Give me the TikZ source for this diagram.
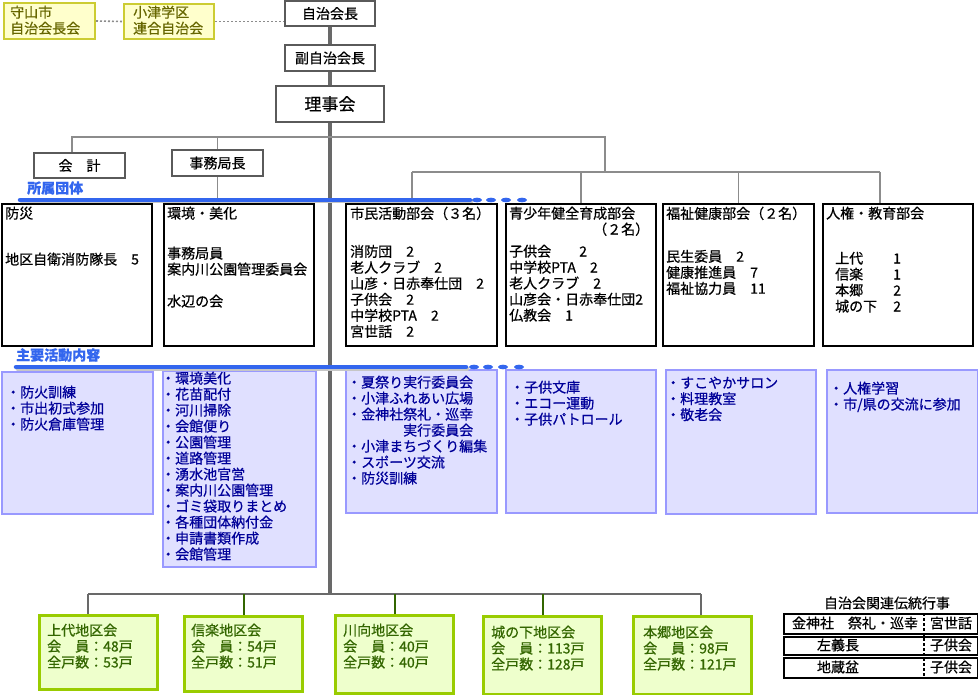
\documentclass[tikz,border=0pt]{standalone}
\usepackage{fontspec}
\setmainfont{Noto Sans CJK JP}[FakeBold=0.6]
\usetikzlibrary{calc}
\definecolor{trunkc}{RGB}{105,105,105}
\definecolor{linec}{RGB}{140,140,140}
\definecolor{blueln}{RGB}{51,102,238}
\definecolor{lavfill}{RGB}{224,224,255}
\definecolor{lavdraw}{RGB}{153,153,255}
\definecolor{lavtext}{RGB}{0,0,153}
\definecolor{grnfill}{RGB}{238,255,204}
\definecolor{grndraw}{RGB}{153,204,0}
\definecolor{grntext}{RGB}{51,102,0}
\definecolor{grnline}{RGB}{51,102,0}
\definecolor{yelfill}{RGB}{255,255,204}
\definecolor{yeldraw}{RGB}{204,204,51}
\definecolor{yeltext}{RGB}{102,102,0}
\definecolor{topdraw}{RGB}{90,90,90}
\begin{document}
\begin{tikzpicture}[x=1pt,y=-1pt,
  topbox/.style={draw=topdraw,line width=1.8pt,fill=white,inner sep=0,font=\fontsize{14}{16}\selectfont},
  secbox/.style={draw=black,line width=2pt,fill=white,anchor=north west,inner sep=0},
  actbox/.style={draw=lavdraw,line width=2pt,fill=lavfill,anchor=north west,inner sep=0},
  grnbox/.style={draw=grndraw,line width=3pt,fill=grnfill,anchor=north west,inner sep=0},
  yelbox/.style={draw=yeldraw,line width=2pt,fill=yelfill,anchor=north west,inner sep=0},
  tabrow/.style={draw=black,line width=2pt,fill=white,anchor=north west,inner sep=0},
  txt/.style={anchor=north west,inner sep=0,align=left,font=\fontsize{14}{16}\selectfont},
  ctxt/.style={inner sep=0,font=\fontsize{14}{16}\selectfont},
  acttxt/.style={txt,text=lavtext},
  grntxt/.style={txt,text=grntext},
  bluelab/.style={anchor=west,inner sep=0,text=blueln,font=\fontsize{14}{16}\selectfont\bfseries},
  trunk/.style={draw=trunkc,line width=4.5pt},
  thinln/.style={draw=linec,line width=1.6pt},
  dotln/.style={draw=linec,line width=1.6pt,dash pattern=on 2pt off 2pt},
  bluelinest/.style={draw=blueln,line width=4.5pt,line cap=round},
  shadowln/.style={draw=gray!45,line width=4pt,line cap=round},
]
\useasboundingbox (0,0) rectangle (978,695);

% top yellow boxes
\node[yelbox,minimum width=91,minimum height=36] (moriyama) at (3,2) {};
\node[txt,text=yeltext] (moriyamat) at (10,5.5) {守山市\\自治会長会};
\node[yelbox,minimum width=90,minimum height=35] (ozu) at (123,3) {};
\node[txt,text=yeltext] (ozut) at (133,5.5) {小津学区\\連合自治会};

% top chain
\node[topbox,minimum width=90,minimum height=25] (jichi) at (330,13.5) {自治会長};
\node[topbox,minimum width=90,minimum height=26] (fuku) at (330,58) {副自治会長};
\node[topbox,minimum width=108,minimum height=36,font=\fontsize{17}{20}\selectfont] (riji) at (330,104) {理事会};
\node[topbox,minimum width=91,minimum height=25] (kaikei) at (79.5,165.5) {会　計};
\node[topbox,minimum width=91,minimum height=26] (jimu) at (217.5,163) {事務局長};

% section boxes
\node[secbox,minimum width=150,minimum height=142] (bosai) at (1,203) {};
\node[secbox,minimum width=150,minimum height=142] (kankyo) at (163,203) {};
\node[secbox,minimum width=151,minimum height=142] (shimin) at (345,203) {};
\node[secbox,minimum width=150,minimum height=142] (seisho) at (505,203) {};
\node[secbox,minimum width=151,minimum height=142] (fukushi) at (662,203) {};
\node[secbox,minimum width=150,minimum height=142] (jinken) at (822,203) {};

\node[txt] (bosait) at (5,206.5) {防災\\[30pt]地区自衛消防隊長　5};
\node[txt] (kankyot) at (167,206.5) {環境・美化\\[24pt]事務局員\\案内川公園管理委員会\\[16pt]水辺の会};
\node[txt] (shimint) at (350,206.5) {市民活動部会（３名）\\[22pt]消防団　2\\老人クラブ　2\\山彦・日赤奉仕団　2\\子供会　2\\中学校PTA　2\\宮世話　2};
\node[txt] (seishot) at (509,206.5) {青少年健全育成部会\\\hspace*{84pt}（２名）\\[6pt]子供会　　2\\中学校PTA　2\\老人クラブ　2\\山彦会・日赤奉仕団2\\仏教会　1};
\node[txt] (fukushit) at (666,206.5) {福祉健康部会（２名）\\[27pt]民生委員　2\\健康推進員　7\\福祉協力員　11};
\node[txt] (jinkent) at (826,206.5) {人権・教育部会\\[29pt]\hspace*{9pt}\makebox[58pt][l]{上代}1\\\hspace*{9pt}\makebox[58pt][l]{信楽}1\\\hspace*{9pt}\makebox[58pt][l]{本郷}2\\\hspace*{9pt}\makebox[58pt][l]{城の下}2};

% activity boxes
\node[actbox,minimum width=151,minimum height=142] (boka) at (1,371) {};
\node[actbox,minimum width=153,minimum height=196] (kankyoa) at (162,370) {};
\node[actbox,minimum width=151,minimum height=143] (natsu) at (345,369) {};
\node[actbox,minimum width=150,minimum height=143] (kodomo) at (505,369) {};
\node[actbox,minimum width=150,minimum height=144] (sukoyaka) at (665,369) {};
\node[actbox,minimum width=151,minimum height=143] (jinkena) at (826,369) {};

\node[acttxt] (bokat) at (6,385.5) {・防火訓練\\・市出初式参加\\・防火倉庫管理};
\node[acttxt] (kankyoat) at (161,371.5) {・環境美化\\・花苗配付\\・河川掃除\\・会館便り\\・公園管理\\・道路管理\\・湧水池官営\\・案内川公園管理\\・ゴミ袋取りまとめ\\・各種団体納付金\\・申請書類作成\\・会館管理};
\node[acttxt] (natsut) at (347,375.5) {・夏祭り実行委員会\\・小津ふれあい広場\\・金神社祭礼・巡幸\\\hspace*{56pt}実行委員会\\・小津まちづくり編集\\・スポーツ交流\\・防災訓練};
\node[acttxt] (kodomot) at (510,380.5) {・子供文庫\\・エコー運動\\・子供パトロール};
\node[acttxt] (sukoyakat) at (666,376.5) {・すこやかサロン\\・料理教室\\・敬老会};
\node[acttxt] (jinkenat) at (829,381.5) {・人権学習\\・市/県の交流に参加};

% district boxes
\node[grnbox,minimum width=118,minimum height=74] (kamishiro) at (38,614) {};
\node[grnbox,minimum width=118,minimum height=75] (shigaraki) at (183,615) {};
\node[grnbox,minimum width=118,minimum height=78] (kawamukai) at (334,614) {};
\node[grnbox,minimum width=118,minimum height=78] (shironoshita) at (482,615) {};
\node[grnbox,minimum width=118,minimum height=78] (hongo) at (632,615) {};

\node[grntxt] (kamishirot) at (47,623.5) {上代地区会\\会　員：48戸\\全戸数：53戸};
\node[grntxt] (shigarakit) at (191,623.5) {信楽地区会\\会　員：54戸\\全戸数：51戸};
\node[grntxt] (kawamukait) at (343,623.5) {川向地区会\\会　員：40戸\\全戸数：40戸};
\node[grntxt] (shironoshitat) at (491,625.5) {城の下地区会\\会　員：113戸\\全戸数：128戸};
\node[grntxt] (hongot) at (643,625.5) {本郷地区会\\会　員：98戸\\全戸数：121戸};

% table
\node[ctxt] (tabtitle) at (887,603) {自治会関連伝統行事};
\node[tabrow,minimum width=194,minimum height=20] (r1) at (783,613) {};
\node[tabrow,minimum width=194,minimum height=18] (r2) at (783,636) {};
\node[tabrow,minimum width=194,minimum height=20] (r3) at (783,657) {};
\node[ctxt] (c11) at (855,623) {金神社　祭礼・巡幸};
\node[ctxt] (c12) at (951,623) {宮世話};
\node[ctxt] (c21) at (838,645) {左義長};
\node[ctxt] (c22) at (951,645) {子供会};
\node[ctxt] (c31) at (838,667) {地蔵盆};
\node[ctxt] (c32) at (951,667) {子供会};
\coordinate (dv) at (924,0);
\draw[line width=1.8pt,dash pattern=on 3pt off 2pt] (r1.north -| dv) -- (r3.south -| dv);

% coordinates for connectors
\coordinate (bj) at (330,594);
\coordinate (tl) at (72,137);
\coordinate (tr) at (605,137);
\coordinate (tr2) at (605,172);
\coordinate (ml) at (412,172);
\coordinate (mr) at (880,172);
\coordinate (bl) at (88,594);
\coordinate (br) at (701,594);

% dotted links
\draw[dotln] (moriyama.east) -- (ozu.west);
\draw[dotln] (ozu.east) -- (ozu.east -| jichi.west);

% trunk
\draw[trunk] (jichi.south) -- (fuku.north);
\draw[trunk] (fuku.south) -- (riji.north);
\draw[trunk] (riji.south) -- (bj);

% upper branches
\draw[thinln] (kaikei.north -| tl) -- (tl) -- (tr) -- (tr2);
\draw[thinln] (jimu.north) -- (jimu.north |- tl);
\draw[thinln] (jimu.south) -- (jimu.south |- kankyo.north);
\draw[thinln] (ml) -- (mr);
\draw[thinln] (ml) -- (ml |- shimin.north);
\draw[thinln] (seisho.north) -- (seisho.north |- ml);
\draw[thinln] (fukushi.north) -- (fukushi.north |- ml);
\draw[thinln] (mr) -- (mr |- jinken.north);

% bottom branches
\draw[draw=trunkc,line width=2.5pt] (bl) -- (br);
\draw[draw=trunkc,line width=2pt] (bl) -- (bl |- kamishiro.north);
\draw[draw=grnline,line width=2pt] (shigaraki.north) -- (shigaraki.north |- bl);
\draw[draw=grnline,line width=2pt] (kawamukai.north) -- (kawamukai.north |- bl);
\draw[draw=grnline,line width=2pt] (shironoshita.north) -- (shironoshita.north |- bl);
\draw[draw=trunkc,line width=2pt] (br) -- (br |- hongo.north);

% blue band lines
\coordinate (s1a) at (20,200);
\coordinate (s1b) at (470,200);
\coordinate (s2a) at (16,367);
\coordinate (s2b) at (466,367);
\draw[shadowln] ($(s1a)+(1.5,1.5)$) -- ($(s1b)+(1.5,1.5)$);
\draw[bluelinest] (s1a) -- (s1b);
\draw[shadowln] ($(s2a)+(1.5,1.5)$) -- ($(s2b)+(1.5,1.5)$);
\draw[bluelinest] (s2a) -- (s2b);
\foreach \dx in {477,491,506,522} \fill[blueln] (\dx,200) ellipse (5 and 2.3);
\foreach \dx in {474,488,503,519} \fill[blueln] (\dx,367) ellipse (5 and 2.3);
\node[bluelab] (shozoku) at (27,188) {所属団体};
\node[bluelab] (shuyo) at (16,355) {主要活動内容};
\end{tikzpicture}
\end{document}
